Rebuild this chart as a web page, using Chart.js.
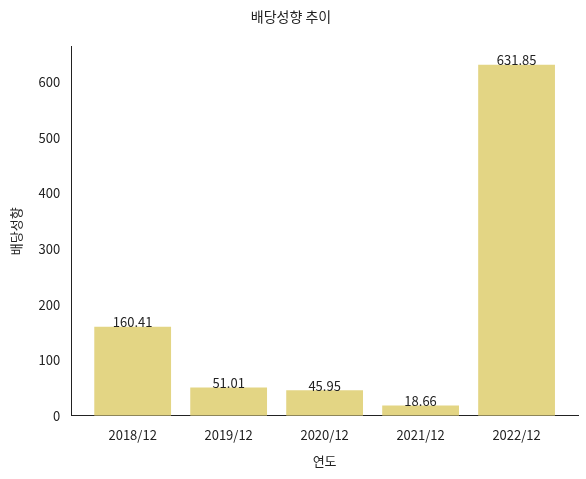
<!DOCTYPE html>
<html><head><meta charset="utf-8">
<script src="https://cdn.jsdelivr.net/npm/chart.js@4"></script>
<style>html,body{margin:0;padding:0;background:#fff}#w{width:586px;height:479px}</style>
</head><body><div id="w"><canvas id="c"></canvas></div>
<script>
const categories = ['2018/12','2019/12','2020/12','2021/12','2022/12'];
const values = [160.41, 51.01, 45.95, 18.66, 631.85];
const yTicks = [0,100,200,300,400,500,600];
const FONT = "'Noto Sans CJK KR','Noto Sans',sans-serif";
const labelPlugin = {
  id:'lbl',
  afterDatasetsDraw(chart){
    const ctx = chart.ctx; const meta = chart.getDatasetMeta(0);
    ctx.save(); ctx.font = '13px '+FONT; ctx.fillStyle='#222'; ctx.textAlign='center'; ctx.textBaseline='bottom';
    meta.data.forEach((b,i)=>ctx.fillText(values[i].toFixed(2), b.x, b.y+2));
    ctx.restore();
  }
};
new Chart(document.getElementById('c'),{
  type:'bar',
  data:{datasets:[{data:values.map((v,i)=>({x:i,y:v})),backgroundColor:'#e3d584',categoryPercentage:1,barPercentage:0.8}]},
  options:{
    responsive:true,maintainAspectRatio:false,animation:false,
    layout:{padding:{left:4,right:8,top:4,bottom:6}},
    plugins:{legend:{display:false},tooltip:{enabled:false},
      title:{display:true,text:'배당성향 추이',font:{family:FONT,size:14,weight:'normal'},color:'#222',padding:{top:4,bottom:22}}},
    scales:{
      x:{type:'linear',min:-0.64,max:4.64,offset:false,grid:{display:false},border:{color:'#222'},
        afterBuildTicks(s){s.ticks=categories.map((c,i)=>({value:i}));},
        ticks:{color:'#222',font:{family:FONT,size:13},callback:(v)=>categories[v]},
        title:{display:true,text:'연도',color:'#222',font:{family:FONT,size:13},padding:{top:8}}},
      y:{min:0,max:664,grid:{display:false},border:{color:'#222'},
        afterBuildTicks(s){s.ticks=yTicks.map(v=>({value:v}));},
        ticks:{color:'#222',font:{family:FONT,size:13}},
        title:{display:true,text:'배당성향',color:'#222',font:{family:FONT,size:13},padding:{bottom:12}}}
    }
  },
  plugins:[labelPlugin]
});
</script></body></html>
